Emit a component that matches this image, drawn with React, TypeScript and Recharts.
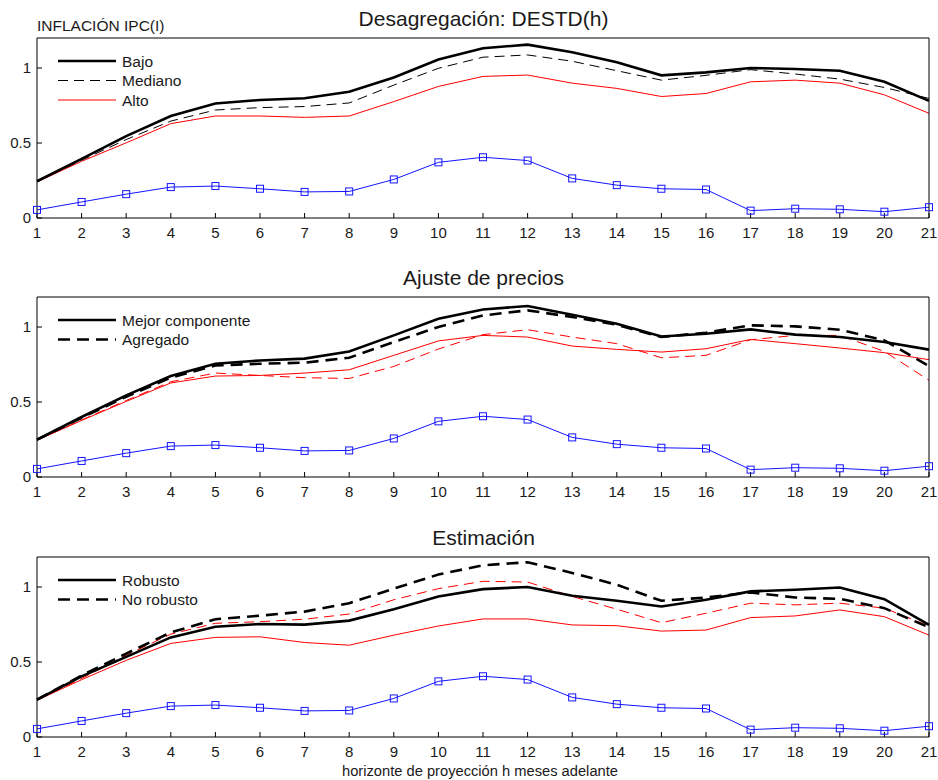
import React from "react"
import { LineChart, Line, XAxis, YAxis } from "recharts"

// horizonte h (meses)
const horizonte = [1, 2, 3, 4, 5, 6, 7, 8, 9, 10, 11, 12, 13, 14, 15, 16, 17, 18, 19, 20, 21]
const yTicks = [0, 0.5, 1]

// serie azul con cuadrados, igual en los tres paneles
const azul = [0.054, 0.107, 0.159, 0.206, 0.213, 0.195, 0.174, 0.177, 0.257, 0.371, 0.405, 0.383, 0.264, 0.219, 0.195, 0.19, 0.049, 0.062, 0.058, 0.042, 0.072]

// Panel 1: Desagregación
const bajo = [0.245, 0.394, 0.546, 0.68, 0.763, 0.787, 0.798, 0.841, 0.937, 1.056, 1.132, 1.156, 1.105, 1.038, 0.951, 0.971, 1.0, 0.993, 0.982, 0.908, 0.781]
const mediano = [0.244, 0.385, 0.523, 0.646, 0.72, 0.736, 0.743, 0.767, 0.886, 0.998, 1.072, 1.087, 1.045, 0.982, 0.919, 0.951, 0.989, 0.96, 0.926, 0.87, 0.797]
const alto = [0.24, 0.378, 0.501, 0.629, 0.68, 0.68, 0.671, 0.68, 0.776, 0.877, 0.944, 0.953, 0.899, 0.864, 0.81, 0.83, 0.908, 0.919, 0.899, 0.821, 0.698]

// Panel 2: Ajuste de precios
const mejor = [0.249, 0.4, 0.544, 0.673, 0.755, 0.777, 0.789, 0.837, 0.944, 1.055, 1.117, 1.14, 1.082, 1.022, 0.937, 0.955, 0.984, 0.949, 0.933, 0.9, 0.849]
const agregado = [0.249, 0.395, 0.535, 0.662, 0.744, 0.755, 0.762, 0.795, 0.9, 1.0, 1.077, 1.111, 1.067, 1.015, 0.933, 0.962, 1.011, 1.004, 0.982, 0.911, 0.74]
const mejorRojo = [0.245, 0.377, 0.504, 0.627, 0.673, 0.677, 0.693, 0.715, 0.811, 0.907, 0.944, 0.933, 0.873, 0.851, 0.833, 0.855, 0.917, 0.889, 0.86, 0.829, 0.782]
const agregadoRojo = [0.245, 0.38, 0.51, 0.635, 0.693, 0.677, 0.662, 0.657, 0.737, 0.853, 0.949, 0.982, 0.933, 0.889, 0.795, 0.811, 0.915, 0.944, 0.944, 0.837, 0.645]

// Panel 3: Estimación
const robusto = [0.249, 0.404, 0.534, 0.664, 0.735, 0.753, 0.749, 0.776, 0.852, 0.937, 0.986, 1.0, 0.942, 0.908, 0.87, 0.915, 0.971, 0.982, 0.997, 0.919, 0.747]
const noRobusto = [0.249, 0.41, 0.556, 0.697, 0.785, 0.809, 0.836, 0.892, 0.989, 1.083, 1.145, 1.165, 1.094, 1.015, 0.908, 0.93, 0.964, 0.93, 0.921, 0.859, 0.731]
const robustoRojo = [0.245, 0.382, 0.511, 0.624, 0.664, 0.668, 0.63, 0.612, 0.679, 0.74, 0.787, 0.787, 0.747, 0.742, 0.706, 0.713, 0.796, 0.807, 0.847, 0.802, 0.679]
const noRobustoRojo = [0.245, 0.39, 0.545, 0.686, 0.758, 0.769, 0.785, 0.82, 0.915, 0.989, 1.038, 1.033, 0.937, 0.852, 0.762, 0.825, 0.892, 0.881, 0.892, 0.859, 0.74]

const FONT = "'Liberation Sans', Arial, Helvetica, sans-serif"
const BLUE = "#1414ff"
const RED = "#ff0000"
const W = 938
const H = 260
const LEFT = 37
const TOP = 38
const RIGHT = 8

type Serie = { key: string; values: number[]; color: string; width: number; dash?: string; squares?: boolean }
type LegendItem = { label: string; width: number; color: string; dash?: string }

const squareDot = (color: string) => (props: any) => {
  const { cx, cy, index } = props
  if (cx == null || cy == null) return <g key={index} />
  return <rect key={index} x={cx - 3.5} y={cy - 3.5} width={7} height={7} fill="none" stroke={color} strokeWidth={1} />
}

function Panel({ title, series, legend, top, header, footer }: {
  title: string
  series: Serie[]
  legend: LegendItem[]
  top: number
  header?: string
  footer?: string
}) {
  const data = horizonte.map((h, i) => {
    const row: Record<string, number> = { h }
    series.forEach((s) => (row[s.key] = s.values[i]))
    return row
  })
  const tickStyle = { fill: "#1a1a1a", fontSize: 15, fontFamily: FONT }
  const axisStroke = { stroke: "#000", strokeWidth: 1 }

  return (
    <div style={{ position: "absolute", left: 0, top, width: W, height: H }}>
      <LineChart width={W} height={H} data={data} margin={{ top: TOP - 1, right: RIGHT, bottom: 12, left: 0 }}>
        <XAxis
          dataKey="h"
          type="number"
          domain={[1, 21]}
          ticks={horizonte}
          interval={0}
          height={30}
          tickSize={-5}
          tickMargin={14}
          tick={tickStyle}
          axisLine={axisStroke}
          tickLine={axisStroke}
        />
        <XAxis
          xAxisId="top"
          orientation="top"
          dataKey="h"
          type="number"
          domain={[1, 21]}
          ticks={horizonte}
          interval={0}
          height={1}
          tickSize={-5}
          tick={false}
          axisLine={axisStroke}
          tickLine={axisStroke}
        />
        <YAxis
          type="number"
          domain={[0, 1.2]}
          ticks={yTicks}
          allowDataOverflow
          width={LEFT}
          tickSize={-5}
          tickMargin={11}
          tick={tickStyle}
          axisLine={axisStroke}
          tickLine={axisStroke}
        />
        <YAxis
          yAxisId="right"
          orientation="right"
          type="number"
          domain={[0, 1.2]}
          ticks={yTicks}
          allowDataOverflow
          width={1}
          tickSize={-5}
          tick={false}
          axisLine={axisStroke}
          tickLine={axisStroke}
        />
        {series.map((s) => (
          <Line
            key={s.key}
            dataKey={s.key}
            type="linear"
            stroke={s.color}
            strokeWidth={s.width}
            strokeDasharray={s.dash}
            dot={s.squares ? squareDot(s.color) : false}
            activeDot={false}
            isAnimationActive={false}
          />
        ))}
      </LineChart>
      <svg width={W} height={H} style={{ position: "absolute", left: 0, top: 0, pointerEvents: "none" }}>
        <text x={(LEFT + W - RIGHT) / 2} y={TOP - 12} textAnchor="middle" fontSize={21} fontFamily={FONT} fill="#1a1a1a">
          {title}
        </text>
        {header && (
          <text x={LEFT} y={TOP - 7} fontSize={15.5} fontFamily={FONT} fill="#1a1a1a">
            {header}
          </text>
        )}
        {legend.map((l, i) => {
          const y = TOP + 23 + i * 19.5
          return (
            <g key={l.label}>
              <line x1={58} x2={116} y1={y} y2={y} stroke={l.color} strokeWidth={l.width} strokeDasharray={l.dash} />
              <text x={122} y={y + 5.5} fontSize={15.5} fontFamily={FONT} fill="#1a1a1a">
                {l.label}
              </text>
            </g>
          )
        })}
        {footer && (
          <text x={480} y={H - 3} textAnchor="middle" fontSize={14.7} fontFamily={FONT} fill="#1a1a1a">
            {footer}
          </text>
        )}
      </svg>
    </div>
  )
}

export default function App() {
  return (
    <div style={{ position: "absolute", left: 0, top: 0, width: W, height: 780, background: "#fff" }}>
      <Panel
        top={0}
        title="Desagregación: DESTD(h)"
        header="INFLACIÓN IPC(I)"
        series={[
          { key: "azul", values: azul, color: BLUE, width: 1, squares: true },
          { key: "alto", values: alto, color: RED, width: 1 },
          { key: "mediano", values: mediano, color: "#000", width: 1, dash: "10 6" },
          { key: "bajo", values: bajo, color: "#000", width: 2.6 },
        ]}
        legend={[
          { label: "Bajo", width: 2.6, color: "#000" },
          { label: "Mediano", width: 1, color: "#000", dash: "10 6" },
          { label: "Alto", width: 1, color: RED },
        ]}
      />
      <Panel
        top={259}
        title="Ajuste de precios"
        series={[
          { key: "azul", values: azul, color: BLUE, width: 1, squares: true },
          { key: "mejorRojo", values: mejorRojo, color: RED, width: 1 },
          { key: "agregadoRojo", values: agregadoRojo, color: RED, width: 1, dash: "10 6" },
          { key: "agregado", values: agregado, color: "#000", width: 2.6, dash: "12 7" },
          { key: "mejor", values: mejor, color: "#000", width: 2.6 },
        ]}
        legend={[
          { label: "Mejor componente", width: 2.6, color: "#000" },
          { label: "Agregado", width: 2.6, color: "#000", dash: "12 7" },
        ]}
      />
      <Panel
        top={519}
        title="Estimación"
        footer="horizonte de proyección h meses adelante"
        series={[
          { key: "azul", values: azul, color: BLUE, width: 1, squares: true },
          { key: "robustoRojo", values: robustoRojo, color: RED, width: 1 },
          { key: "noRobustoRojo", values: noRobustoRojo, color: RED, width: 1, dash: "10 6" },
          { key: "noRobusto", values: noRobusto, color: "#000", width: 2.6, dash: "12 7" },
          { key: "robusto", values: robusto, color: "#000", width: 2.6 },
        ]}
        legend={[
          { label: "Robusto", width: 2.6, color: "#000" },
          { label: "No robusto", width: 2.6, color: "#000", dash: "12 7" },
        ]}
      />
    </div>
  )
}
